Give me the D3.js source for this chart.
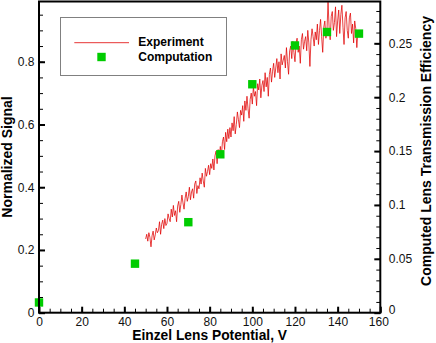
<!DOCTYPE html>
<html>
<head>
<meta charset="utf-8">
<script src="https://cdn.jsdelivr.net/npm/d3@7"></script>
<style>
  body { margin: 0; background: #fff; }
  svg { display: block; font-family: "Liberation Sans", Arial, sans-serif; }
</style>
</head>
<body>
<svg id="chart"></svg>
<script>
const width = 436;
const height = 343;

// computed transmission efficiency (right axis)
const compVoltage = [0, 45, 70, 85, 100, 120, 135, 150];
const compEfficiency = [0.0095, 0.0455, 0.084, 0.147, 0.212, 0.248, 0.2605, 0.259];

// measured normalized signal, sampled every 0.5 V from 50 V to 150 V
const expStart = 50;
const expStep = 0.5;
const expSignal = [
  0.235,0.25,0.228,0.255,0.24,0.21,0.245,0.26,0.232,0.248,
  0.27,0.255,0.262,0.29,0.25,0.282,0.295,0.268,0.3,0.278,
  0.285,0.315,0.3,0.29,0.33,0.305,0.342,0.31,0.325,0.29,
  0.34,0.355,0.32,0.345,0.375,0.35,0.33,0.365,0.385,0.355,
  0.37,0.4,0.36,0.385,0.395,0.365,0.41,0.42,0.38,0.405,
  0.395,0.43,0.41,0.445,0.42,0.4,0.46,0.435,0.45,0.47,
  0.44,0.475,0.46,0.49,0.455,0.5,0.515,0.475,0.52,0.495,
  0.53,0.5,0.545,0.56,0.52,0.575,0.545,0.585,0.555,0.59,
  0.56,0.605,0.58,0.625,0.57,0.6,0.64,0.615,0.59,0.645,
  0.63,0.66,0.61,0.675,0.645,0.69,0.65,0.62,0.68,0.7,
  0.665,0.72,0.69,0.705,0.66,0.73,0.71,0.745,0.685,0.725,
  0.74,0.705,0.765,0.72,0.75,0.69,0.76,0.78,0.735,0.77,
  0.795,0.75,0.78,0.81,0.765,0.8,0.745,0.825,0.79,0.805,
  0.82,0.78,0.845,0.8,0.76,0.835,0.85,0.81,0.865,0.83,
  0.8,0.86,0.875,0.83,0.85,0.795,0.87,0.89,0.84,0.865,
  0.88,0.835,0.9,0.86,0.785,0.87,0.905,0.88,0.85,0.895,
  0.87,0.92,0.855,0.9,0.935,0.88,0.83,0.91,0.93,0.875,
  0.9,0.99,0.91,0.87,0.945,0.96,0.9,0.925,0.975,0.88,
  0.93,0.965,0.89,0.95,0.98,0.91,0.855,0.94,0.96,0.9,
  0.875,0.94,0.955,0.89,0.92,0.86,0.93,0.905,0.845,0.9,
  0.88
];

const xTicks = [0, 20, 40, 60, 80, 100, 120, 140, 160];
const leftTicks = [0, 0.2, 0.4, 0.6, 0.8];
const rightTicks = [0, 0.05, 0.1, 0.15, 0.2, 0.25];

const plotLeft = 39, plotRight = 380.3, plotTop = 1.5, plotBottom = 312.7;

const x = d3.scaleLinear().domain([0, 160]).range([plotLeft, plotRight]);
const yL = d3.scaleLinear().domain([0, 0.992]).range([plotBottom, plotTop]);
const yR = d3.scaleLinear().domain([0, 0.2888]).range([plotBottom, plotTop]);

const svg = d3.select("#chart").attr("width", width).attr("height", height);

svg.append("clipPath").attr("id", "plotClip")
  .append("rect")
  .attr("x", plotLeft).attr("y", plotTop)
  .attr("width", plotRight - plotLeft).attr("height", plotBottom - plotTop);

const fmt = d3.format("~g");

function styleAxis(g) {
  g.select(".domain").remove();
  g.selectAll("text").attr("fill", "#111").style("font-size", "12px");
}

// minor ticks
svg.append("g").attr("transform", `translate(0,${plotBottom})`)
  .call(d3.axisBottom(x).tickValues(d3.range(0, 161, 5)).tickSize(-4).tickFormat(""))
  .call(styleAxis);
svg.append("g").attr("transform", `translate(${plotLeft},0)`)
  .call(d3.axisLeft(yL).tickValues(d3.range(0, 0.99, 0.05)).tickSize(-4).tickFormat(""))
  .call(styleAxis);
svg.append("g").attr("transform", `translate(${plotRight},0)`)
  .call(d3.axisRight(yR).tickValues(d3.range(0, 0.285, 0.01)).tickSize(-4).tickFormat(""))
  .call(styleAxis);

// major ticks
svg.append("g").attr("transform", `translate(0,${plotBottom})`)
  .call(d3.axisBottom(x).tickValues(xTicks).tickSize(-6).tickPadding(4.5).tickFormat(fmt))
  .call(styleAxis)
  .call(g => g.selectAll("line").attr("stroke-width", 2))
  .call(g => g.selectAll("text").filter(d => d === 160).attr("dx", -2));
svg.append("g").attr("transform", `translate(${plotLeft},0)`)
  .call(d3.axisLeft(yL).tickValues(leftTicks).tickSize(-6).tickPadding(4.5).tickFormat(fmt))
  .call(styleAxis)
  .call(g => g.selectAll("line").attr("stroke-width", 2));
svg.append("g").attr("transform", `translate(${plotRight},0)`)
  .call(d3.axisRight(yR).tickValues(rightTicks).tickSize(-6).tickPadding(8.5).tickFormat(fmt))
  .call(styleAxis)
  .call(g => g.selectAll("line").attr("stroke-width", 2))
  .call(g => g.selectAll("text").filter(d => d === 0).attr("dy", "0.1em"));

// experiment line
const expVoltage = expSignal.map((d, i) => expStart + i * expStep);
const line = d3.line()
  .x((d, i) => x(expVoltage[i]))
  .y(d => yL(d));

svg.append("path")
  .datum(expSignal)
  .attr("clip-path", "url(#plotClip)")
  .attr("d", line)
  .attr("fill", "none")
  .attr("stroke", "#e00000")
  .attr("stroke-width", 0.75)
  .attr("stroke-linejoin", "miter");

// computation squares
const sq = 8.4;
svg.append("g")
  .selectAll("rect")
  .data(compVoltage)
  .enter()
  .append("rect")
  .attr("x", d => x(d) - sq / 2)
  .attr("y", (d, i) => yR(compEfficiency[i]) - sq / 2)
  .attr("width", sq)
  .attr("height", sq)
  .attr("fill", "#00cc00");

// frame
svg.append("rect")
  .attr("x", plotLeft).attr("y", plotTop)
  .attr("width", plotRight - plotLeft).attr("height", plotBottom - plotTop)
  .attr("fill", "none")
  .attr("stroke", "#000")
  .attr("stroke-width", 2);

// legend
const legend = svg.append("g");
legend.append("rect")
  .attr("x", 60.5).attr("y", 17.5)
  .attr("width", 166).attr("height", 58)
  .attr("fill", "#fff")
  .attr("stroke", "#808080")
  .attr("stroke-width", 1);
legend.append("line")
  .attr("x1", 74.3).attr("x2", 129)
  .attr("y1", 42.7).attr("y2", 42.7)
  .attr("stroke", "#e00000")
  .attr("stroke-width", 0.8);
legend.append("rect")
  .attr("x", 101.5 - sq / 2).attr("y", 57 - sq / 2)
  .attr("width", sq).attr("height", sq)
  .attr("fill", "#00cc00");
legend.append("text")
  .attr("x", 138.3).attr("y", 46)
  .attr("font-size", 12).attr("font-weight", "bold")
  .text("Experiment");
legend.append("text")
  .attr("x", 138.3).attr("y", 60.5)
  .attr("font-size", 12).attr("font-weight", "bold")
  .text("Computation");

// axis titles
svg.append("text")
  .attr("x", (plotLeft + plotRight) / 2).attr("y", 340.3)
  .attr("text-anchor", "middle")
  .attr("font-size", 13.8).attr("font-weight", "bold")
  .text("Einzel Lens Potential, V");
svg.append("text")
  .attr("transform", "translate(12,157) rotate(-90)")
  .attr("text-anchor", "middle")
  .attr("font-size", 14).attr("font-weight", "bold")
  .text("Normalized Signal");
svg.append("text")
  .attr("transform", "translate(431,151) rotate(-90)")
  .attr("text-anchor", "middle")
  .attr("font-size", 14).attr("font-weight", "bold")
  .text("Computed Lens Transmission Efficiency");
</script>
</body>
</html>
